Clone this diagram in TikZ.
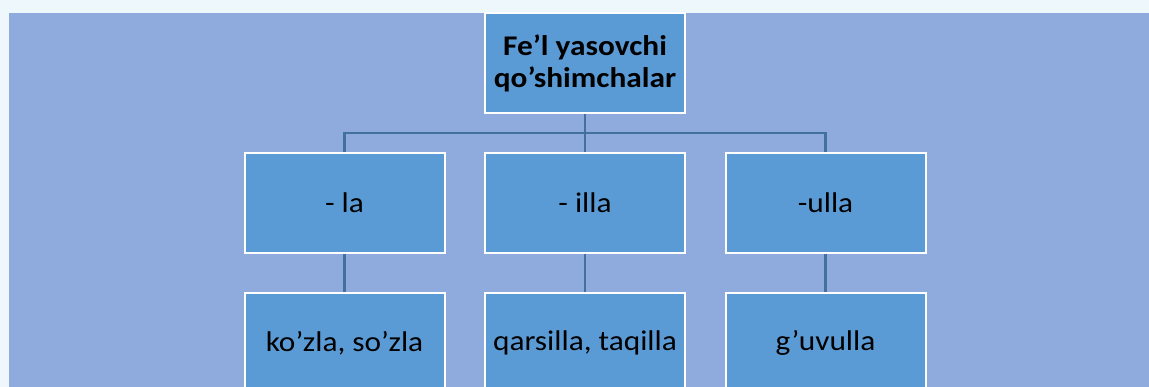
\documentclass[tikz,border=0pt]{standalone}
\usepackage{fontspec}
\setmainfont{Carlito}[FakeStretch=1.1]
\usetikzlibrary{trees}
\definecolor{pagebg}{HTML}{EEF7FC}
\definecolor{panelbg}{HTML}{8FAADC}
\definecolor{boxblue}{HTML}{5B9BD5}
\definecolor{linkblue}{HTML}{41719C}

\begin{document}
\begin{tikzpicture}[x=1pt,y=-1pt]
            \useasboundingbox (0,0) rectangle (1149,387);
            \clip (0,0) rectangle (1149,387);
            \fill[pagebg] (0,0) rectangle (1149,387);
            \fill[panelbg] (9,13) rectangle (1149,400);
            \tikzstyle{every node}=[draw=white, line width=2pt, fill=boxblue, align=center,
                minimum width=200pt, minimum height=100pt, inner sep=0pt,
                font=\fontsize{28.5}{32}\selectfont];
            \tikzstyle{edge from parent}=[draw=linkblue, line width=2.2pt, edge from parent fork down];
            \node (root) at (585,63) {\textbf{Fe’l yasovchi}\\\textbf{qo’shimchalar}}
                [grow=down, level distance=140pt, sibling distance=240.5pt]
            child { node (la) {- la}
                child { node (lax) {ko’zla, so’zla}}
            }
            child { node (illa) {- illa}
                child { node (illax) {qarsilla, taqilla}}
            }
            child { node (ulla) {-ulla}
                child { node (ullax) {g’uvulla}}
            };
        \end{tikzpicture}
\end{document}
